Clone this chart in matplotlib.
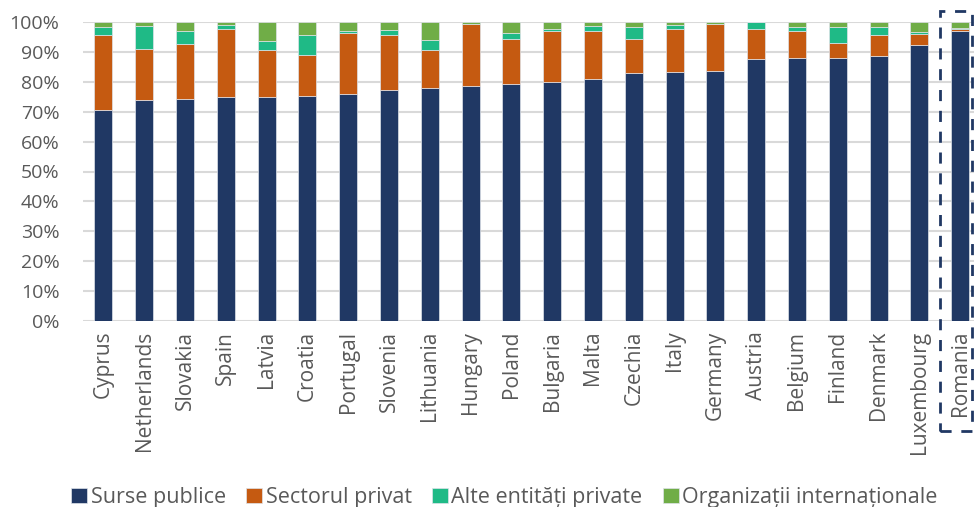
import matplotlib.pyplot as plt
import numpy as np
from matplotlib.patches import Rectangle

plt.rcParams['font.family'] = ['Open Sans', 'DejaVu Sans']

countries = ['Cyprus', 'Netherlands', 'Slovakia', 'Spain', 'Latvia', 'Croatia',
             'Portugal', 'Slovenia', 'Lithuania', 'Hungary', 'Poland', 'Bulgaria',
             'Malta', 'Czechia', 'Italy', 'Germany', 'Austria', 'Belgium',
             'Finland', 'Denmark', 'Luxembourg', 'Romania']

# shares of R&D funding, percent
surse_publice = [70.6, 74.0, 74.3, 75.0, 75.0, 75.2, 75.8, 77.2, 78.0, 78.6, 79.3,
                 80.1, 80.9, 83.0, 83.4, 83.7, 87.7, 87.8, 87.9, 88.5, 92.3, 96.9]
sectorul_privat = [25.2, 17.0, 18.4, 22.8, 15.8, 13.6, 20.6, 18.6, 12.6, 20.6, 15.1,
                   17.0, 16.2, 11.3, 14.4, 15.5, 9.9, 9.2, 5.2, 7.1, 3.7, 0.9]
alte_entitati = [2.5, 7.5, 4.2, 1.3, 2.9, 6.9, 0.7, 1.6, 3.5, 0.0, 1.8,
                 0.4, 1.4, 3.9, 1.1, 0.1, 2.4, 1.4, 5.3, 2.8, 0.7, 0.1]
organizatii = [1.7, 1.5, 3.1, 0.9, 6.3, 4.3, 2.9, 2.6, 5.9, 0.8, 3.8,
               2.5, 1.5, 1.8, 1.1, 0.7, 0.0, 1.6, 1.6, 1.6, 3.3, 2.1]

series = [
    ('Surse publice', surse_publice, '#203864'),
    ('Sectorul privat', sectorul_privat, '#C55A11'),
    ('Alte entități private', alte_entitati, '#1FBA86'),
    ('Organizații internaționale', organizatii, '#70AD47'),
]

fig = plt.figure(figsize=(9.74, 5.07), dpi=100)
ax = fig.add_axes([83 / 974, 186 / 507, 891 / 974, 299 / 507])

x = np.arange(len(countries))
bottom = np.zeros(len(countries))
for name, vals, col in series:
    v = np.array(vals) / 100
    ax.bar(x, v, 0.44, bottom=bottom, color=col, label=name,
           edgecolor='#dfe3ea', linewidth=0.5, zorder=3)
    bottom += v

ax.set_xlim(-0.5, 21.34)
ax.set_ylim(0, 1)
ticks = np.arange(0, 1.01, 0.1)
ax.set_yticks(ticks)
ax.set_yticklabels([f'{int(round(t * 100))}%' for t in ticks])
ax.set_xticks(x)
ax.set_xticklabels(countries, rotation=90)
ax.tick_params(axis='both', length=0, colors='#595959')
ax.tick_params(axis='x', labelsize=15, pad=7)
ax.tick_params(axis='y', labelsize=14, pad=17)
ax.yaxis.grid(True, color='#d9d9d9', linewidth=1.5, zorder=0)
for s in ax.spines.values():
    s.set_visible(False)

# highlight box round Romania
box = Rectangle((20.5, -0.368), 0.8, 1.405, fill=False, edgecolor='#203864',
                linewidth=2, linestyle=(0, (4, 3.5)), clip_on=False, zorder=5)
ax.add_patch(box)

fig.legend(loc='lower center', bbox_to_anchor=(0.518, -0.04), ncol=4, frameon=False,
           fontsize=15.5, handlelength=0.75, handleheight=0.75, handletextpad=0.15,
           columnspacing=0.95, labelcolor='#595959')

fig.savefig('out.png', dpi=100)
